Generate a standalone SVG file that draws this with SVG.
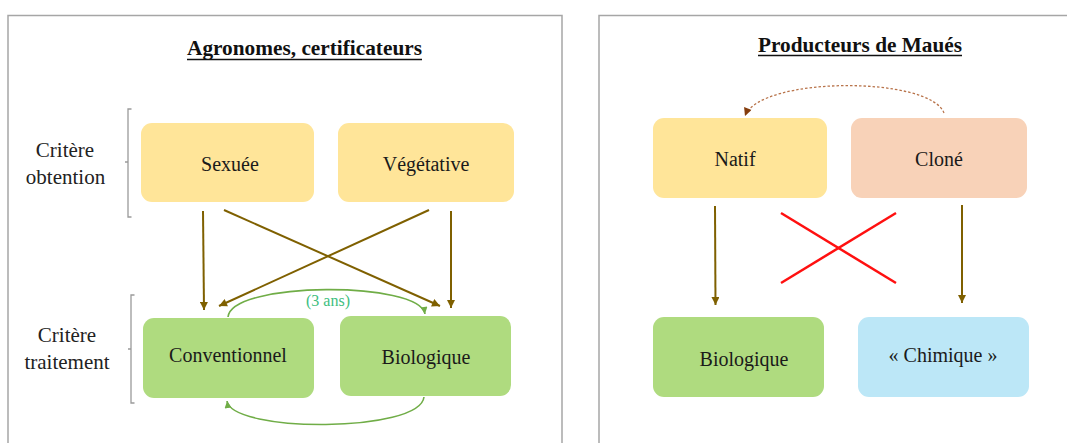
<svg xmlns="http://www.w3.org/2000/svg" width="1067" height="443" viewBox="0 0 1067 443">
  <style>
    .panel { fill: none; stroke: #a6a6a6; stroke-width: 1.5; }
    .title { font-family: "Liberation Serif", "Times New Roman", serif; font-weight: bold; font-size: 21px; fill: #111; text-anchor: middle; }
    .uline { stroke: #111; stroke-width: 1.6; }
    .lbl { font-family: "Liberation Serif", "Times New Roman", serif; font-size: 21px; fill: #222; text-anchor: middle; }
    .node text { font-family: "Liberation Serif", "Times New Roman", serif; font-size: 20px; fill: #1a1a1a; text-anchor: middle; }
    .yellow { fill: #FFE599; }
    .green { fill: #AFDB7F; }
    .peach { fill: #F8D2B8; }
    .blue { fill: #BCE7F7; }
    .bracket { fill: none; stroke: #9a9a9a; stroke-width: 1.3; }
    .brown { stroke: #7F6000; stroke-width: 2; fill: none; marker-end: url(#ah-brown); }
    .garc { stroke: #70AD47; stroke-width: 1.6; fill: none; marker-end: url(#ah-green); }
    .dotarc { stroke: #B8734A; stroke-width: 1.3; stroke-dasharray: 2.5 2; fill: none; marker-end: url(#ah-dark); }
    .redx { stroke: #FF1010; stroke-width: 2.5; }
  </style>
  <defs>
    <marker id="ah-brown" viewBox="0 0 10 10" refX="10" refY="5" markerWidth="9" markerHeight="8" markerUnits="userSpaceOnUse" orient="auto">
      <path d="M0,0 L10,5 L0,10 z" fill="#7F6000"/>
    </marker>
    <marker id="ah-green" viewBox="0 0 10 10" refX="10" refY="5" markerWidth="8" markerHeight="7" markerUnits="userSpaceOnUse" orient="auto">
      <path d="M0,0 L10,5 L0,10 z" fill="#70AD47"/>
    </marker>
    <marker id="ah-dark" viewBox="0 0 10 10" refX="10" refY="5" markerWidth="9" markerHeight="8" markerUnits="userSpaceOnUse" orient="auto">
      <path d="M0,0 L10,5 L0,10 z" fill="#843C0C"/>
    </marker>
  </defs>

  <rect width="1067" height="443" fill="#ffffff"/>

  <!-- Panels -->
  <g id="panel-left">
    <path class="panel" d="M8,443 L8,15.5 L562,15.5 L562,443"/>
    <text class="title" x="304.5" y="55" textLength="235" lengthAdjust="spacingAndGlyphs">Agronomes, certificateurs</text>
    <line class="uline" x1="187" y1="59.5" x2="422" y2="59.5"/>
  </g>
  <g id="panel-right">
    <path class="panel" d="M599,443 L599,15.5 L1067,15.5"/>
    <text class="title" x="860" y="52" textLength="204" lengthAdjust="spacingAndGlyphs">Producteurs de Maués</text>
    <line class="uline" x1="758" y1="55.5" x2="962" y2="55.5"/>
  </g>

  <!-- Criteria labels and brackets -->
  <g id="label-obtention">
    <text class="lbl" x="65" y="157">Critère</text>
    <text class="lbl" x="65.5" y="184">obtention</text>
    <path class="bracket" d="M131.5,109 L128,109 L128,217 L131.5,217 M128,162 L125,162"/>
  </g>
  <g id="label-traitement">
    <text class="lbl" x="67" y="342">Critère</text>
    <text class="lbl" x="67" y="369">traitement</text>
    <path class="bracket" d="M134.5,295 L131,295 L131,403 L134.5,403 M131,349 L128,349"/>
  </g>

  <!-- Left nodes -->
  <g id="sexuee" class="node">
    <rect class="yellow" x="141" y="123" width="173" height="79" rx="11"/>
    <text x="230" y="171">Sexuée</text>
  </g>
  <g id="vegetative" class="node">
    <rect class="yellow" x="338" y="123" width="176" height="79" rx="11"/>
    <text x="426" y="171">Végétative</text>
  </g>
  <g id="conventionnel" class="node">
    <rect class="green" x="143" y="318" width="171" height="80" rx="11"/>
    <text x="228" y="362">Conventionnel</text>
  </g>
  <g id="biologique-left" class="node">
    <rect class="green" x="340" y="316" width="171" height="80" rx="11"/>
    <text x="426" y="364">Biologique</text>
  </g>

  <!-- Right nodes -->
  <g id="natif" class="node">
    <rect class="yellow" x="653" y="118" width="174" height="80" rx="11"/>
    <text x="735" y="166">Natif</text>
  </g>
  <g id="clone" class="node">
    <rect class="peach" x="851" y="118" width="176" height="80" rx="11"/>
    <text x="939" y="166">Cloné</text>
  </g>
  <g id="biologique-right" class="node">
    <rect class="green" x="653" y="317" width="171" height="80" rx="11"/>
    <text x="744" y="366">Biologique</text>
  </g>
  <g id="chimique" class="node">
    <rect class="blue" x="858" y="317" width="171" height="80" rx="11"/>
    <text x="943" y="362">« Chimique »</text>
  </g>

  <!-- Connectors -->
  <g id="connectors">
    <line class="brown" x1="203" y1="211" x2="204" y2="310"/>
    <line class="brown" x1="224" y1="210" x2="440" y2="306"/>
    <line class="brown" x1="429" y1="210" x2="219" y2="306"/>
    <line class="brown" x1="451" y1="211" x2="451" y2="308"/>

    <path class="garc" d="M228,317 C232,281 420,281 425,314"/>
    <text x="328" y="306" font-family="Liberation Serif, Times New Roman, serif" font-size="16" fill="#3DBE7E" text-anchor="middle">(3 ans)</text>
    <path class="garc" d="M424,397 C420,433 232,433 227,401"/>

    <line class="brown" x1="715" y1="206" x2="715.5" y2="305"/>
    <line class="brown" x1="962" y1="205" x2="962" y2="303"/>
    <path class="dotarc" d="M944,113 C930,76 760,76 745,116"/>

    <line class="redx" x1="781" y1="213" x2="896" y2="283"/>
    <line class="redx" x1="781" y1="283" x2="896" y2="213"/>
  </g>
</svg>
